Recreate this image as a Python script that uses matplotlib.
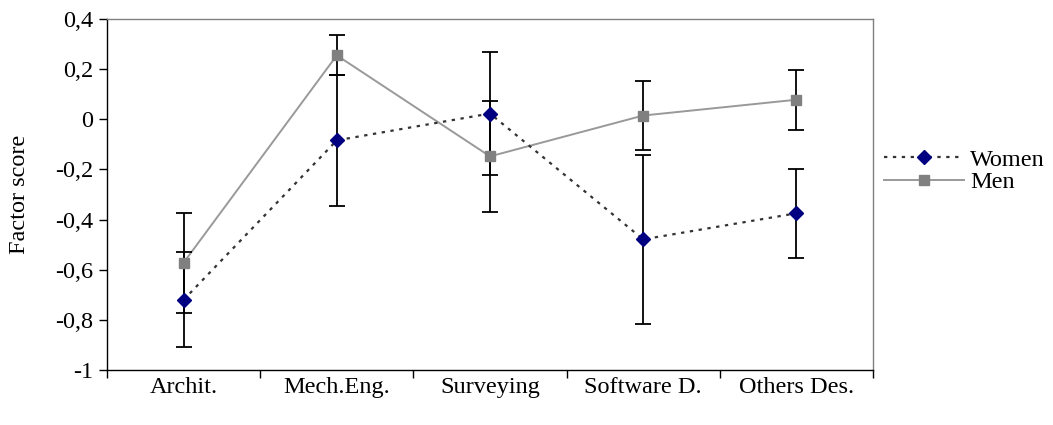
import matplotlib
matplotlib.use("Agg")
import matplotlib.pyplot as plt
from matplotlib.lines import Line2D
import numpy as np

categories = ["Archit.", "Mech.Eng.", "Surveying", "Software D.", "Others Des."]
women = [-0.72, -0.084, 0.023, -0.479, -0.375]
women_err = [0.19, 0.26, 0.245, 0.336, 0.177]
men = [-0.572, 0.255, -0.148, 0.015, 0.078]
men_err = [0.2, 0.08, 0.22, 0.138, 0.12]
yticks = [0.4, 0.2, 0, -0.2, -0.4, -0.6, -0.8, -1]
ytick_labels = ["0,4", "0,2", "0", "-0,2", "-0,4", "-0,6", "-0,8", "-1"]
series_names = ["Women", "Men"]
y_label = "Factor score"

plt.rcParams['font.family'] = ['Liberation Serif', 'DejaVu Serif']
plt.rcParams['font.size'] = 17.5

fig = plt.figure(figsize=(10.53, 4.25), dpi=100)
ax = fig.add_axes([107/1053, 1 - 370/425, (873-107)/1053, (370-19)/425])

x = np.arange(len(categories))
women_color = '#000080'
men_color = '#808080'

ax.plot(x, men, color='#999999', lw=1.4, zorder=2)
ax.plot(x, women, color='#333333', lw=1.6, linestyle=(0, (1.5, 2.5)), zorder=2)
ax.errorbar(x, women, yerr=women_err, fmt='none', ecolor='black', elinewidth=1.3,
            capsize=6, capthick=1.3, zorder=3)
ax.errorbar(x, men, yerr=men_err, fmt='none', ecolor='black', elinewidth=1.3,
            capsize=6, capthick=1.3, zorder=3)
ax.plot(x, men, linestyle='none', marker='s', ms=7.5, color=men_color, mec=men_color, zorder=4)
ax.plot(x, women, linestyle='none', marker='D', ms=7.5, color=women_color, mec=women_color, zorder=4)

ax.set_xlim(-0.5, len(categories) - 0.5)
ax.set_ylim(-1, 0.4)
ax.set_yticks(yticks)
ax.set_yticklabels(ytick_labels)
ax.set_xticks(np.arange(-0.5, len(categories)), minor=False)
ax.set_xticklabels([])
ax.set_xticks(x, minor=True)
ax.set_xticklabels(categories, minor=True)
ax.tick_params(axis='x', which='major', direction='out', length=6, width=1, color='black')
ax.tick_params(axis='x', which='minor', length=0, pad=5)
ax.tick_params(axis='y', direction='out', length=6, width=1, pad=4)

for s in ['top', 'right']:
    ax.spines[s].set_color('#808080')
    ax.spines[s].set_linewidth(1)
for s in ['left', 'bottom']:
    ax.spines[s].set_color('black')
    ax.spines[s].set_linewidth(1)

ax.set_ylabel(y_label)
ax.yaxis.set_label_coords(-0.1, 0.5)

handles = [
    Line2D([], [], color='#333333', lw=1.6, linestyle=(0, (1.5, 2.5)), marker='D', ms=7.5,
           mfc=women_color, mec=women_color),
    Line2D([], [], color='#999999', lw=1.4, marker='s', ms=7.5, mfc=men_color, mec=men_color),
]
fig.legend(handles, series_names, loc='center left', bbox_to_anchor=(874/1053, 1 - 171/425),
           frameon=False, handlelength=3.3, numpoints=1, handletextpad=0.25, labelspacing=0.0,
           borderaxespad=0)

fig.savefig("out.png", dpi=100)
